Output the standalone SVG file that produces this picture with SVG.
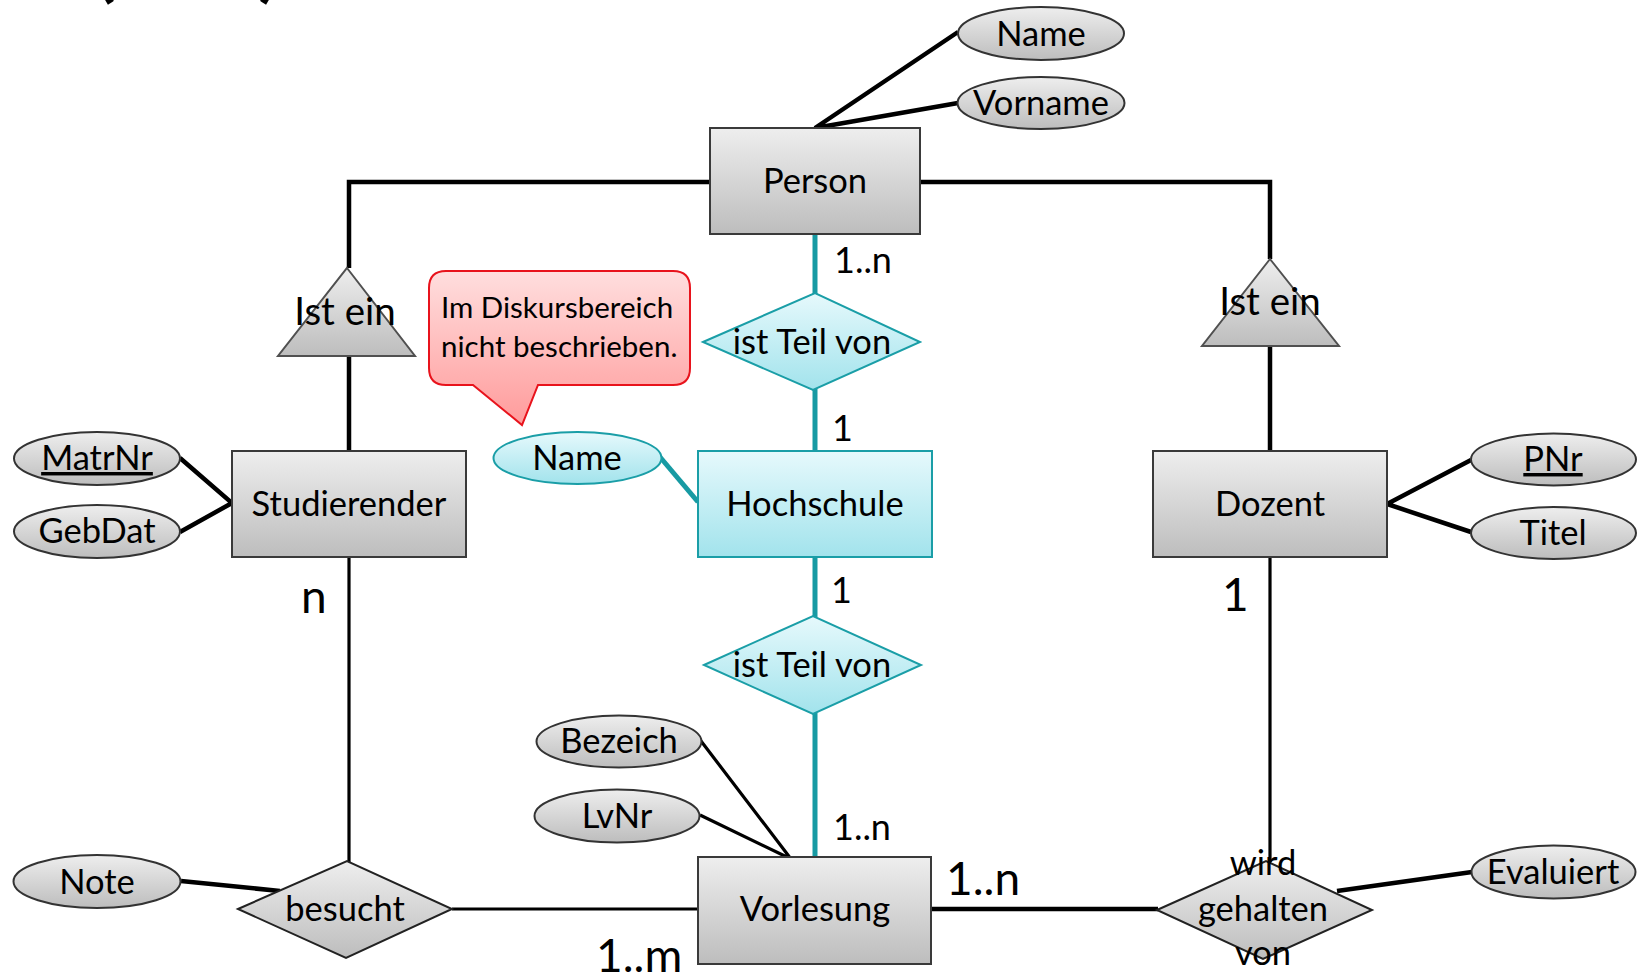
<svg xmlns="http://www.w3.org/2000/svg" width="1637" height="979" viewBox="0 0 1637 979">
  <defs>
    <linearGradient id="gGray" x1="0" y1="0" x2="0" y2="1">
      <stop offset="0" stop-color="#eeeeee"/>
      <stop offset="1" stop-color="#bdbdbd"/>
    </linearGradient>
    <linearGradient id="gCyan" x1="0" y1="0" x2="0" y2="1">
      <stop offset="0" stop-color="#e6f9fc"/>
      <stop offset="1" stop-color="#a2e3ec"/>
    </linearGradient>
    <linearGradient id="gRed" x1="0" y1="0" x2="0" y2="1">
      <stop offset="0" stop-color="#ffdede"/>
      <stop offset="1" stop-color="#ff9b9b"/>
    </linearGradient>
  </defs>
  <style>
    text { font-family: Lato, "Open Sans", "Liberation Sans", sans-serif; fill: #000; }
    .ent { fill: url(#gGray); stroke: #3a3a3a; stroke-width: 2; }
    .attr { fill: url(#gGray); stroke: #333; stroke-width: 2; }
    .rel { fill: url(#gGray); stroke: #222; stroke-width: 2; }
    .isa { fill: url(#gGray); stroke: #505050; stroke-width: 2; }
    .cy { fill: url(#gCyan); stroke: #1a9ea7; stroke-width: 2; }
    .t32 { font-size: 34.5px; text-anchor: middle; }
    .t37 { font-size: 38.5px; text-anchor: middle; }
    .t40 { font-size: 46px; }
    .c32 { font-size: 36px; }
    .note { font-size: 29.5px; }
    .ln { fill: none; stroke: #000; stroke-width: 4.5; }
    .ln3 { fill: none; stroke: #000; stroke-width: 3.2; }
    .tl { fill: none; stroke: #179aa3; stroke-width: 5; }
  </style>

  <!-- title remnant at the upper edge -->
  <g id="title">
    <text x="94" y="-8" style="font-size:80px;font-weight:bold">(</text>
    <text x="258" y="-8" style="font-size:80px;font-weight:bold">)</text>
  </g>

  <!-- connectors -->
  <g id="connectors">
    <path class="ln" d="M710 182 H349 V268"/>
    <path class="ln" d="M349 356 V451"/>
    <path class="ln" d="M920 182 H1270 V259"/>
    <path class="ln" d="M1270 346 V451"/>
    <path class="ln" d="M958 32 L815 128 L958 103"/>
    <path class="ln" d="M180 458 L232 503 L180 532"/>
    <path class="ln" d="M1471 460 L1387 504 L1471 532"/>
    <path class="ln3" d="M349 557 V862"/>
    <path class="ln" d="M181 881 L280 891"/>
    <path class="ln3" d="M452 909 H698"/>
    <path class="ln3" d="M701 741 L791 859 L700 815"/>
    <path class="ln" d="M931 909 H1158"/>
    <path class="ln3" d="M1270 557 V862"/>
    <path class="ln" d="M1337 891 L1472 872"/>
    <path class="tl" d="M815 234 V294"/>
    <path class="tl" d="M815 389 V451"/>
    <path class="tl" d="M815 557 V617"/>
    <path class="tl" d="M815 713 V857"/>
    <path class="tl" d="M660 457 L698 502"/>
  </g>

  <!-- entities -->
  <g id="person">
    <rect class="ent" x="710" y="128" width="210" height="106"/>
    <text class="t32" x="815" y="193">Person</text>
  </g>
  <g id="studierender">
    <rect class="ent" x="232" y="451" width="234" height="106"/>
    <text class="t32" x="349" y="516">Studierender</text>
  </g>
  <g id="dozent">
    <rect class="ent" x="1153" y="451" width="234" height="106"/>
    <text class="t32" x="1270" y="516">Dozent</text>
  </g>
  <g id="hochschule">
    <rect class="cy" x="698" y="451" width="234" height="106"/>
    <text class="t32" x="815" y="516">Hochschule</text>
  </g>
  <g id="vorlesung">
    <rect class="ent" x="698" y="857" width="233" height="107"/>
    <text class="t32" x="815" y="921">Vorlesung</text>
  </g>

  <!-- generalisation triangles -->
  <g id="isa-left">
    <polygon class="isa" points="347,268 415,356 278,356"/>
    <text class="t37" x="345" y="325">Ist ein</text>
  </g>
  <g id="isa-right">
    <polygon class="isa" points="1270,259 1339,346 1202,346"/>
    <text class="t37" x="1270" y="315">Ist ein</text>
  </g>

  <!-- relationships -->
  <g id="rel-teil-1">
    <polygon class="cy" points="703,342 815,293 920,342 813,390"/>
    <text class="t32" x="812" y="354">ist Teil von</text>
  </g>
  <g id="rel-teil-2">
    <polygon class="cy" points="704,665 813,616 921,665 813,714"/>
    <text class="t32" x="812" y="677">ist Teil von</text>
  </g>
  <g id="rel-besucht">
    <polygon class="rel" points="238,909 347,861 452,909 346,958"/>
    <text class="t32" x="345" y="921">besucht</text>
  </g>
  <g id="rel-gehalten">
    <polygon class="rel" points="1157,910 1266,861 1372,910 1263,959"/>
    <text class="t32" x="1263" y="875">wird</text>
    <text class="t32" x="1263" y="921">gehalten</text>
    <text class="t32" x="1263" y="965">von</text>
  </g>

  <!-- attributes -->
  <g id="attr-name">
    <ellipse class="attr" cx="1041" cy="33.5" rx="83" ry="26.5"/>
    <text class="t32" x="1041" y="45.5">Name</text>
  </g>
  <g id="attr-vorname">
    <ellipse class="attr" cx="1041" cy="103" rx="83.5" ry="26"/>
    <text class="t32" x="1041" y="115">Vorname</text>
  </g>
  <g id="attr-matrnr">
    <ellipse class="attr" cx="97" cy="458.5" rx="83" ry="26.5"/>
    <text class="t32" x="97" y="470" text-decoration="underline">MatrNr</text>
  </g>
  <g id="attr-gebdat">
    <ellipse class="attr" cx="97" cy="531.5" rx="83" ry="26.5"/>
    <text class="t32" x="97" y="543">GebDat</text>
  </g>
  <g id="attr-pnr">
    <ellipse class="attr" cx="1553.5" cy="459.5" rx="82.5" ry="26"/>
    <text class="t32" x="1553" y="471" text-decoration="underline">PNr</text>
  </g>
  <g id="attr-titel">
    <ellipse class="attr" cx="1553.5" cy="533" rx="82.5" ry="26"/>
    <text class="t32" x="1553" y="544.5">Titel</text>
  </g>
  <g id="attr-hs-name">
    <ellipse class="cy" cx="577.5" cy="458" rx="84" ry="26"/>
    <text class="t32" x="577" y="470">Name</text>
  </g>
  <g id="attr-bezeich">
    <ellipse class="attr" cx="619" cy="741.5" rx="82.5" ry="26"/>
    <text class="t32" x="619" y="752.5">Bezeich</text>
  </g>
  <g id="attr-lvnr">
    <ellipse class="attr" cx="617" cy="816" rx="82.5" ry="26.5"/>
    <text class="t32" x="617" y="827.5">LvNr</text>
  </g>
  <g id="attr-note">
    <ellipse class="attr" cx="97" cy="881.5" rx="83.5" ry="26.5"/>
    <text class="t32" x="97" y="893.5">Note</text>
  </g>
  <g id="attr-evaluiert">
    <ellipse class="attr" cx="1553.5" cy="872" rx="82" ry="26.5"/>
    <text class="t32" x="1553" y="883.5">Evaluiert</text>
  </g>

  <!-- cardinalities -->
  <g id="cardinalities">
    <text class="c32" x="834" y="273">1..n</text>
    <text class="c32" x="832" y="441">1</text>
    <text class="c32" x="831" y="603">1</text>
    <text class="c32" x="833" y="840">1..n</text>
    <text class="t40" x="301" y="613">n</text>
    <text class="t40" x="1222" y="611">1</text>
    <text class="t40" x="946" y="895">1..n</text>
    <text class="t40" x="596" y="972">1..m</text>
  </g>

  <!-- speech bubble -->
  <g id="callout">
    <path d="M446 271 H673 Q690 271 690 288 V368 Q690 385 673 385 H538 L522 425 L473 385 H446 Q429 385 429 368 V288 Q429 271 446 271 Z" fill="url(#gRed)" stroke="#e8131c" stroke-width="2"/>
    <text class="note" x="441" y="318">Im Diskursbereich</text>
    <text class="note" x="441" y="357">nicht beschrieben.</text>
  </g>
</svg>
